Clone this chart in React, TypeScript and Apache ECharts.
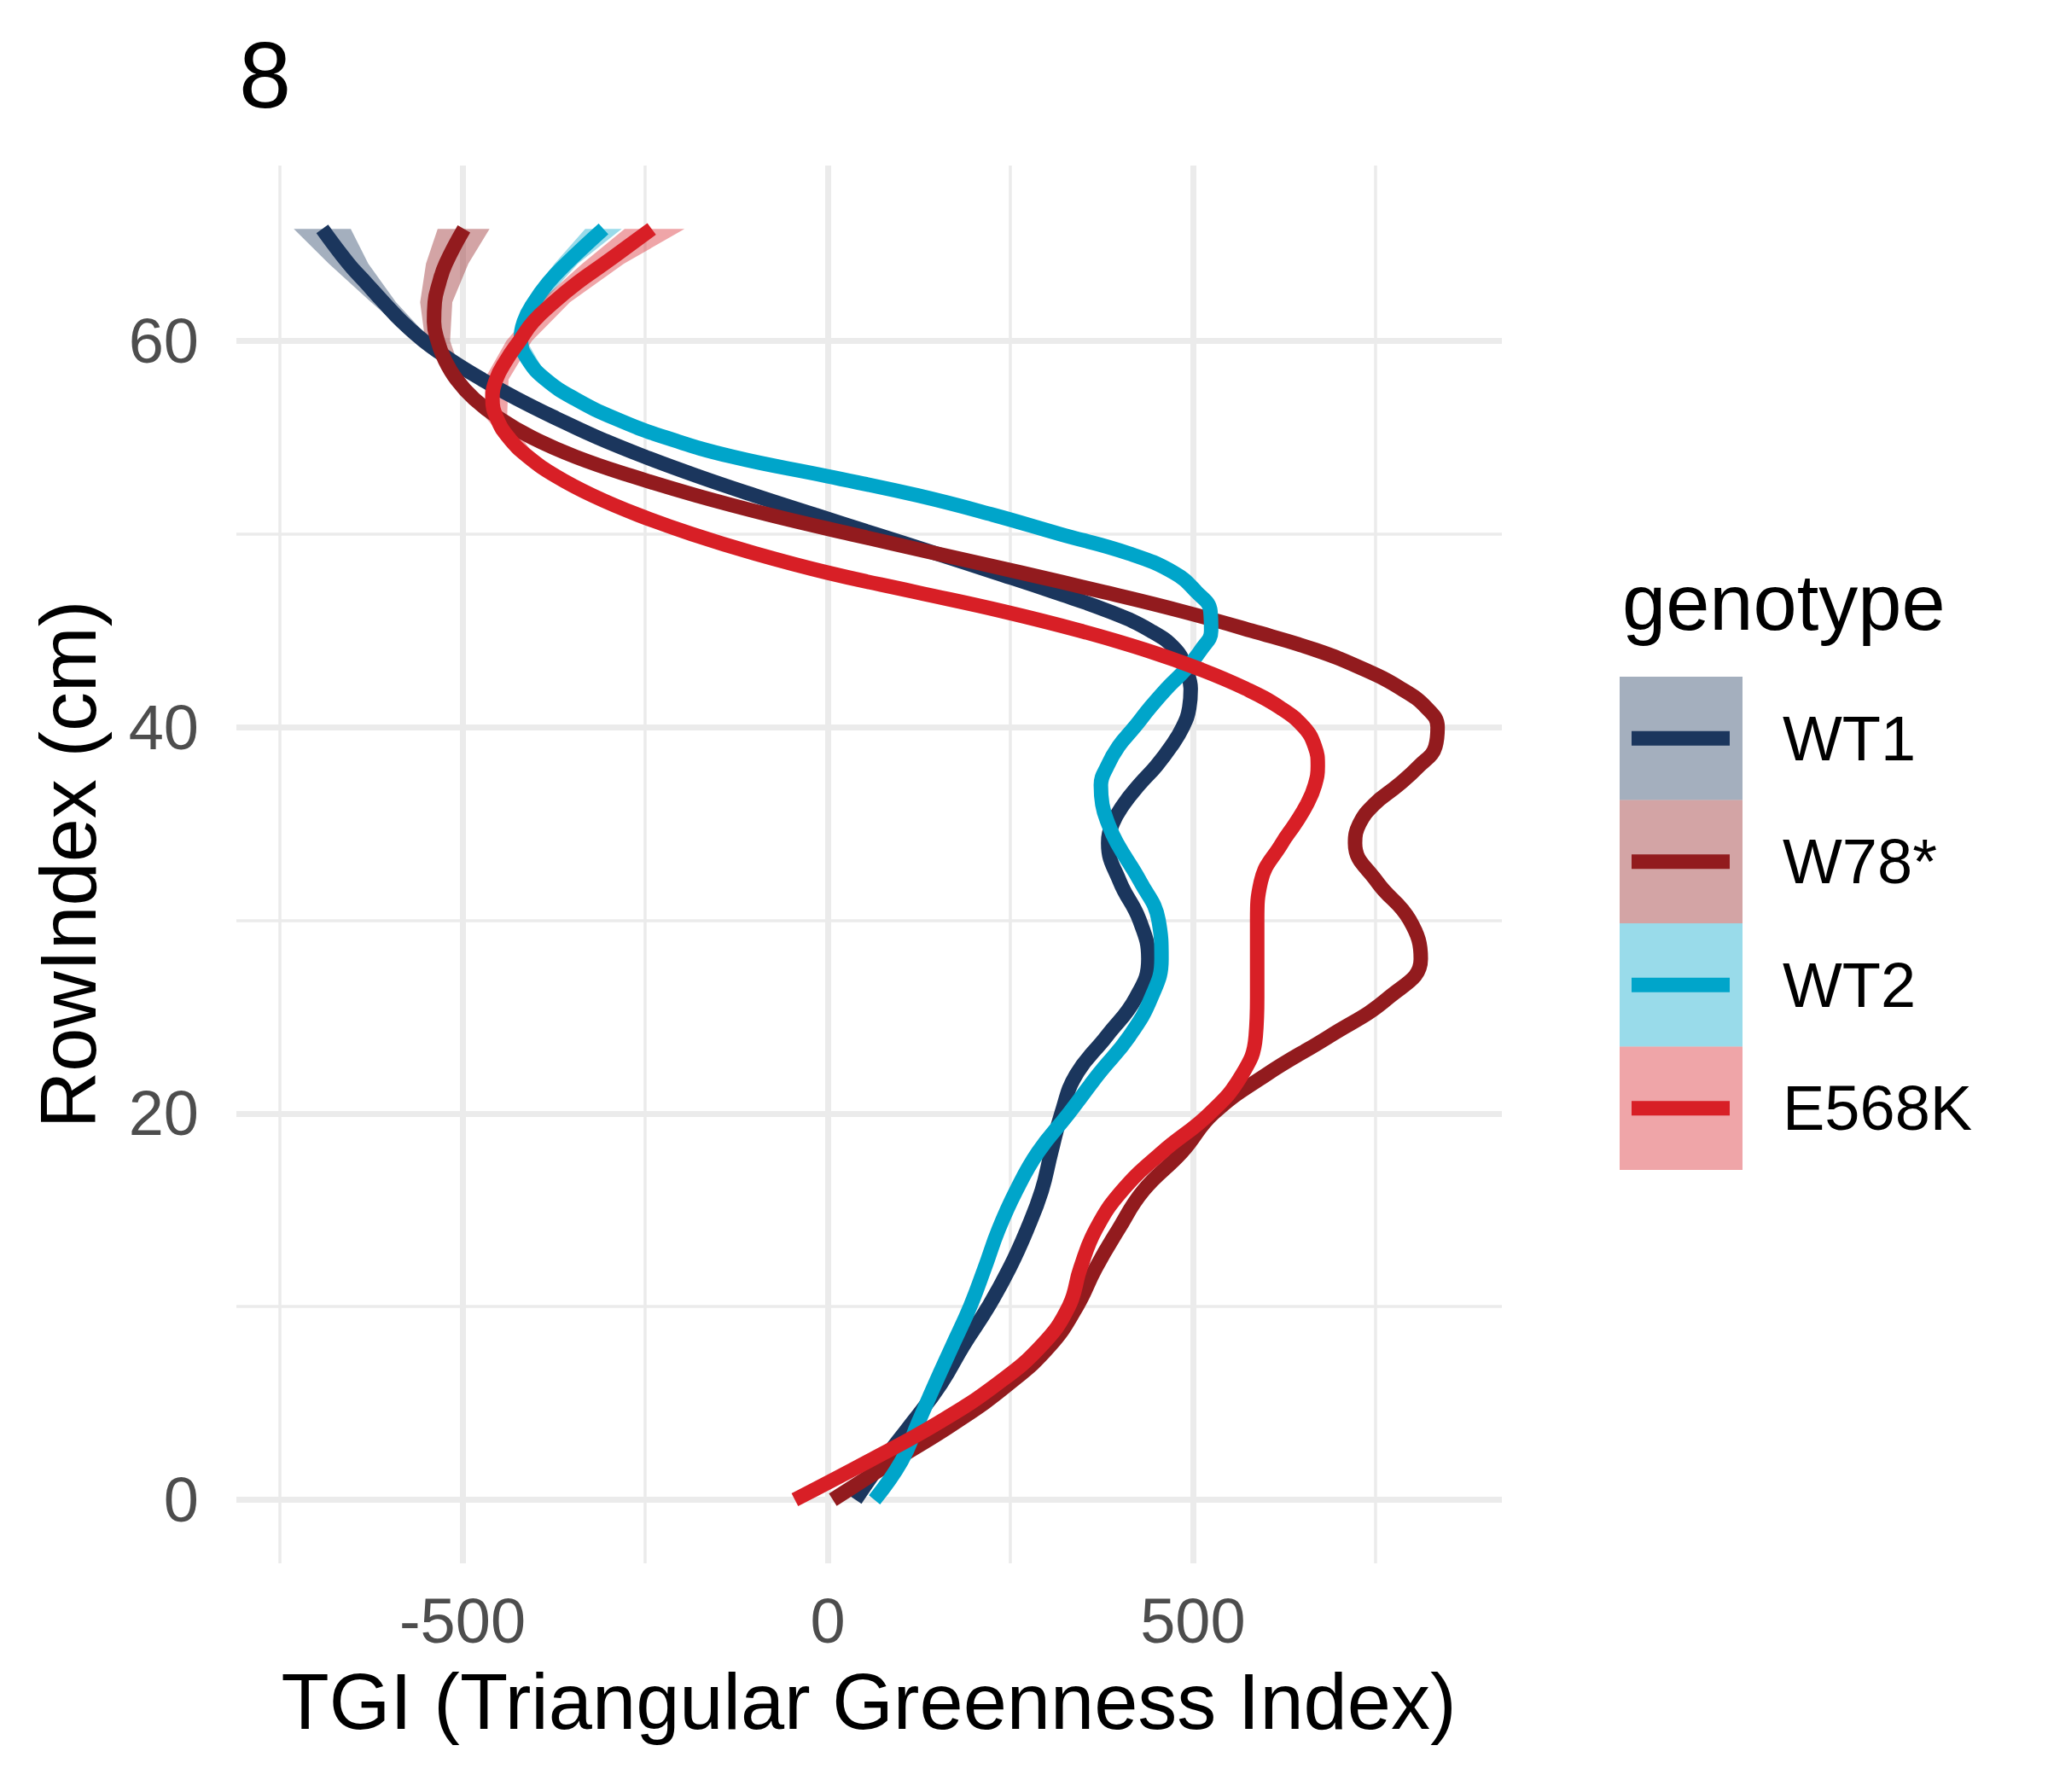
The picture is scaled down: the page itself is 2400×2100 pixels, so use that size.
import { useEffect, useRef } from 'react'
import * as echarts from 'echarts'

// RowIndex (cm) sample rows shared by all smooth curves (denser where they bend)
const rowIndex = [0, 2, 4, 6, 8, 10, 12, 14, 16, 18, 20, 22, 24, 26, 28, 30, 32, 34, 35, 36, 37, 38, 39, 40, 41, 42, 43, 44, 45, 46, 47, 48, 49, 50, 51, 52, 53, 54, 55, 56, 57, 58, 59, 60, 61, 62, 63, 64, 65.8]

// TGI of the fitted curve at each row, per genotype
const tgiWT1 = [38, 75, 116, 155, 186, 220, 249, 273, 293, 306, 320, 340, 382, 422, 439, 427, 400, 384, 390, 405, 426, 450, 470, 486, 495, 497, 490, 477, 442, 385, 310, 230, 148, 65, -18, -100, -178, -250, -315, -372, -425, -473, -516, -553, -583, -608, -632, -656, -692]
const tgiW78 = [7, 90, 175, 248, 305, 341, 367, 398, 432, 485, 528, 600, 687, 768, 812, 797, 752, 722, 728, 748, 781, 810, 832, 835, 820, 785, 734, 668, 580, 485, 378, 265, 148, 32, -80, -180, -268, -345, -405, -450, -484, -508, -524, -534, -539, -538, -532, -523, -498]
const tgiWT2 = [64, 101, 124, 147, 171, 195, 215, 234, 258, 288, 330, 370, 413, 443, 457, 453, 428, 396, 384, 376, 374, 383, 398, 420, 441, 464, 490, 511, 525, 524, 505, 474, 412, 318, 226, 123, -1, -130, -222, -292, -346, -386, -410, -420, -416, -402, -383, -358, -307]
const tgiE568K = [-45, 56, 152, 232, 293, 330, 346, 367, 403, 458, 523, 567, 586, 588, 588, 588, 593, 622, 640, 656, 667, 671, 667, 652, 620, 572, 510, 435, 345, 240, 120, 0, -100, -186, -260, -322, -372, -410, -437, -453, -459, -454, -440, -422, -403, -375, -343, -306, -241]

// confidence band near the top, where it is wider than the line
const ribbonRows = [54, 56, 58, 60, 62, 64, 65.8]
const lowWT1 = [-255, -377, -479, -564, -625, -683, -731]
const highWT1 = [-245, -367, -467, -542, -591, -629, -653]
const lowW78 = [-351, -456, -517, -551, -558, -550, -534]
const highW78 = [-339, -444, -499, -517, -514, -492, -463]
const lowWT2 = [-135, -298, -390, -428, -414, -374, -332]
const highWT2 = [-125, -286, -382, -412, -390, -342, -282]
const lowE568K = [-420, -468, -470, -440, -395, -336, -278]
const highE568K = [-400, -439, -437, -405, -353, -279, -196]

const genotypes = ['WT1', 'W78*', 'WT2', 'E568K']
const colors = ['#1B365D', '#921B1E', '#00A5CA', '#D81F26']
const curves = [tgiWT1, tgiW78, tgiWT2, tgiE568K]
const lows = [lowWT1, lowW78, lowWT2, lowE568K]
const highs = [highWT1, highW78, highWT2, highE568K]

const xLabels = [-500, 0, 500]
const yLabels = [0, 20, 40, 60]
const xMajor = [-500, 0, 500]
const xMinor = [-750, -250, 250, 750]
const yMajor = [0, 20, 40, 60]
const yMinor = [10, 30, 50]

const FONT = 'Liberation Sans, Arial, Helvetica, sans-serif'
const GRID = '#EBEBEB'

export default function App() {
  const ref = useRef<HTMLDivElement | null>(null)

  useEffect(() => {
    document.body.style.margin = '0'
    if (!ref.current) return
    const chart = echarts.init(ref.current, null, { renderer: 'svg' })

    const gridLines = [
      ...xMinor.map((v) => ({ xAxis: v, lineStyle: { width: 3.5 } })),
      ...yMinor.map((v) => ({ yAxis: v, lineStyle: { width: 3.5 } })),
      ...xMajor.map((v) => ({ xAxis: v, lineStyle: { width: 7 } })),
      ...yMajor.map((v) => ({ yAxis: v, lineStyle: { width: 7 } })),
    ]

    const series: any[] = [
      {
        type: 'line',
        data: [],
        silent: true,
        z: 0,
        markLine: {
          silent: true,
          z: 0,
          symbol: ['none', 'none'],
          label: { show: false },
          lineStyle: { color: GRID, type: 'solid' },
          data: gridLines,
        },
      },
    ]

    genotypes.forEach((g, k) => {
      series.push({
        type: 'custom',
        name: g + ' band',
        silent: true,
        z: 2,
        data: [[lows[k][0], ribbonRows[0]]],
        renderItem: (_params: any, api: any) => {
          const pts: number[][] = []
          ribbonRows.forEach((r, i) => pts.push(api.coord([lows[k][i], r])))
          for (let i = ribbonRows.length - 1; i >= 0; i--) pts.push(api.coord([highs[k][i], ribbonRows[i]]))
          return { type: 'polygon', shape: { points: pts }, style: { fill: colors[k], opacity: 0.4 } }
        },
      })
      series.push({
        type: 'line',
        name: g,
        z: 2,
        data: rowIndex.map((r, i) => [curves[k][i], r]),
        showSymbol: false,
        smooth: 0.45,
        silent: true,
        lineStyle: { color: colors[k], width: 17, cap: 'butt' },
      })
    })

    const keyTop = 793
    const keyH = 144.5
    const legend: any[] = [
      {
        type: 'text',
        left: 1901,
        top: 706 - 46,
        style: { text: 'genotype', font: `92px ${FONT}`, fill: '#000' },
      },
    ]
    genotypes.forEach((g, k) => {
      const y0 = keyTop + k * keyH
      legend.push({
        type: 'rect',
        shape: { x: 1898, y: y0, width: 144, height: keyH },
        style: { fill: colors[k], opacity: 0.4 },
      })
      legend.push({
        type: 'line',
        shape: { x1: 1912, y1: y0 + keyH / 2, x2: 2027, y2: y0 + keyH / 2 },
        style: { stroke: colors[k], lineWidth: 17 },
      })
      legend.push({
        type: 'text',
        x: 2089,
        y: y0 + keyH / 2,
        style: { text: g, font: `74px ${FONT}`, fill: '#000', verticalAlign: 'middle' },
      })
    })

    chart.setOption({
      animation: false,
      backgroundColor: '#fff',
      grid: { left: 277, top: 194, width: 1483, height: 1638, containLabel: false },
      xAxis: {
        type: 'value',
        min: -809.6,
        max: 923,
        axisLine: { show: false },
        axisTick: { show: false },
        splitLine: { show: false },
        axisLabel: {
          customValues: xLabels,
          margin: 30,
          fontSize: 74,
          fontFamily: FONT,
          color: '#4D4D4D',
        },
      },
      yAxis: {
        type: 'value',
        min: -3.29,
        max: 69.08,
        axisLine: { show: false },
        axisTick: { show: false },
        splitLine: { show: false },
        axisLabel: {
          customValues: yLabels,
          margin: 44,
          fontSize: 74,
          fontFamily: FONT,
          color: '#4D4D4D',
        },
      },
      graphic: [
        {
          type: 'text',
          x: 280,
          y: 87,
          style: { text: '8', font: `110px ${FONT}`, fill: '#000', verticalAlign: 'middle' },
        },
        {
          type: 'text',
          x: 1018,
          y: 1994,
          style: {
            text: 'TGI (Triangular Greenness Index)',
            font: `92px ${FONT}`,
            fill: '#000',
            align: 'center',
            verticalAlign: 'middle',
          },
        },
        {
          type: 'text',
          x: 80,
          y: 1013,
          rotation: Math.PI / 2,
          style: {
            text: 'RowIndex (cm)',
            font: `92px ${FONT}`,
            fill: '#000',
            align: 'center',
            verticalAlign: 'middle',
          },
        },
        ...legend,
      ],
      series,
    })

    return () => chart.dispose()
  }, [])

  return <div ref={ref} style={{ width: 2400, height: 2100 }} />
}
